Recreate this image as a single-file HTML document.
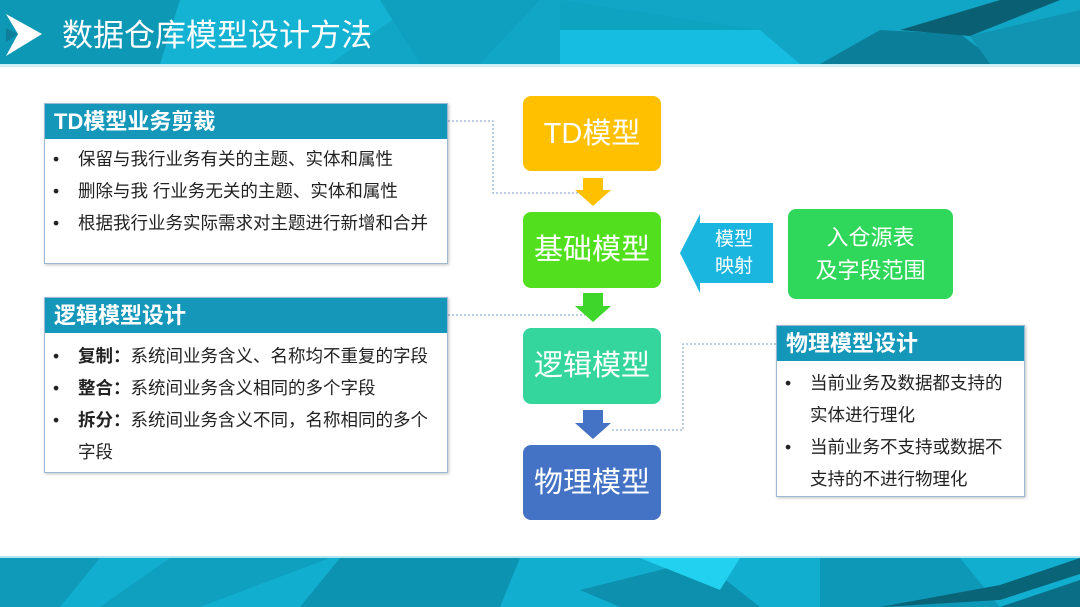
<!DOCTYPE html>
<html><head><meta charset="utf-8"><style>
*{margin:0;padding:0;box-sizing:border-box}
body{width:1080px;height:607px;overflow:hidden;background:#fff;position:relative;font-family:"Liberation Sans","Noto Sans CJK SC",sans-serif}
.a{position:absolute}
.fb{position:absolute;border-radius:8px;color:#fff;font-size:29px;display:flex;align-items:center;justify-content:center;text-align:center;line-height:34px}
.panel{position:absolute;border:1px solid #9db8d4;background:#fff;box-shadow:1px 1px 3px rgba(0,0,0,.25)}
.ph{background:#1597b9;color:#fff;font-weight:bold;font-size:22px;height:35px;line-height:35px;padding-left:9px}
.panel ul{list-style:none;font-size:17.5px;color:#222}
.panel li{position:relative;padding-left:33px;line-height:32px}
.panel li:before{content:"•";position:absolute;left:8px}
.cont{padding-left:33px;font-size:17.5px;line-height:32px;color:#222}
</style></head><body>
<svg class="a" style="left:0;top:0" width="1080" height="607">
<rect x="0" y="0" width="1080" height="64" fill="#12a6c6"/>
<polygon points="0,0 300,0 200,64 0,64" fill="#0d98b6"/>
<polygon points="180,0 420,0 330,64 160,64" fill="#14b3d3"/>
<polygon points="560,0 760,30 580,64 560,64" fill="#0fa3c2"/>
<polygon points="560,30 760,30 800,64 560,64" fill="#16bde0"/>
<polygon points="820,64 880,30 960,34 1000,64" fill="#0b7f99"/>
<polygon points="900,30 1000,0 1060,0 970,36" fill="#0a5f73"/>
<polygon points="970,36 1080,10 1080,64 990,64" fill="#1193b2"/>
<polygon points="380,0 540,0 480,64 420,64" fill="#10a0bf"/>
<rect x="0" y="64" width="1080" height="3" fill="#cfeff6"/>
<polygon points="6,14 42,34 6,56 18,34" fill="#fff"/>
<polygon points="6,28 18,34 6,42" fill="#0d7f9a"/>
<rect x="0" y="556" width="1080" height="2" fill="#aee6f2"/>
<rect x="0" y="558" width="1080" height="49" fill="#12aed0"/>
<polygon points="0,558 100,558 60,607 0,607" fill="#0e9ab8"/>
<polygon points="170,558 330,558 200,607 100,607" fill="#0f9fbf"/>
<polygon points="340,558 520,558 500,607 300,607" fill="#0c93b1"/>
<polygon points="580,590 700,560 760,607 620,607" fill="#0d8fae"/>
<polygon points="820,558 960,558 1000,607 820,607" fill="#0e98b7"/>
<polygon points="1000,607 1080,580 1080,607" fill="#0a6f86"/>
<polygon points="880,607 1000,585 1080,558 1080,574 1000,600" fill="#0a6478"/>
<polygon points="640,558 740,558 720,590" fill="#22d0f0"/>
<g stroke="#7a9cc4" stroke-width="1" stroke-dasharray="2,2" fill="none">
<polyline points="448,121 493,121 493,193 585,193"/>
<polyline points="448,315 585,315"/>
<polyline points="776,344 683,344 683,430 610,430"/>
</g>
<polygon points="583,178 603,178 603,190 611,190 593,206 575,190 583,190" fill="#ffc000"/>
<polygon points="583,293 603,293 603,306 611,306 593,322 575,306 583,306" fill="#3ed62a"/>
<polygon points="583,410 603,410 603,423 611,423 593,439 575,423 583,423" fill="#4472c4"/>
<polygon points="773,223 700,223 700,214 680,253 700,293 700,283 773,283" fill="#1bb6df"/>
</svg>
<div class="a" style="left:62px;top:17px;color:#fff;font-size:31px;line-height:38px">数据仓库模型设计方法</div>

<div class="fb" style="left:523px;top:96px;width:138px;height:75px;background:#ffc000">TD模型</div>
<div class="fb" style="left:523px;top:212px;width:138px;height:76px;background:#52e01e">基础模型</div>
<div class="fb" style="left:523px;top:328px;width:138px;height:76px;background:#34d69e">逻辑模型</div>
<div class="fb" style="left:523px;top:445px;width:138px;height:75px;background:#4472c4">物理模型</div>
<div class="fb" style="left:788px;top:209px;width:165px;height:90px;background:#2fd75a;font-size:22px;line-height:33px">入仓源表<br>及字段范围</div>
<div class="a" style="left:706px;top:226px;width:56px;color:#fff;font-size:19px;line-height:27px;text-align:center">模型<br>映射</div>

<div class="panel" style="left:44px;top:103px;width:404px;height:161px">
<div class="ph">TD模型业务剪裁</div>
<ul style="padding-top:4px"><li>保留与我行业务有关的主题、实体和属性</li><li>删除与我 行业务无关的主题、实体和属性</li><li>根据我行业务实际需求对主题进行新增和合并</li></ul>
</div>
<div class="panel" style="left:44px;top:297px;width:404px;height:176px">
<div class="ph">逻辑模型设计</div>
<ul style="padding-top:7px"><li><b>复制：</b>系统间业务含义、名称均不重复的字段</li><li><b>整合：</b>系统间业务含义相同的多个字段</li><li><b>拆分：</b>系统间业务含义不同，名称相同的多个</li></ul>
<div class="cont">字段</div>
</div>
<div class="panel" style="left:776px;top:325px;width:249px;height:172px">
<div class="ph">物理模型设计</div>
<ul style="padding-top:6px"><li>当前业务及数据都支持的</li></ul>
<div class="cont">实体进行理化</div>
<ul><li>当前业务不支持或数据不</li></ul>
<div class="cont">支持的不进行物理化</div>
</div>
</body></html>
